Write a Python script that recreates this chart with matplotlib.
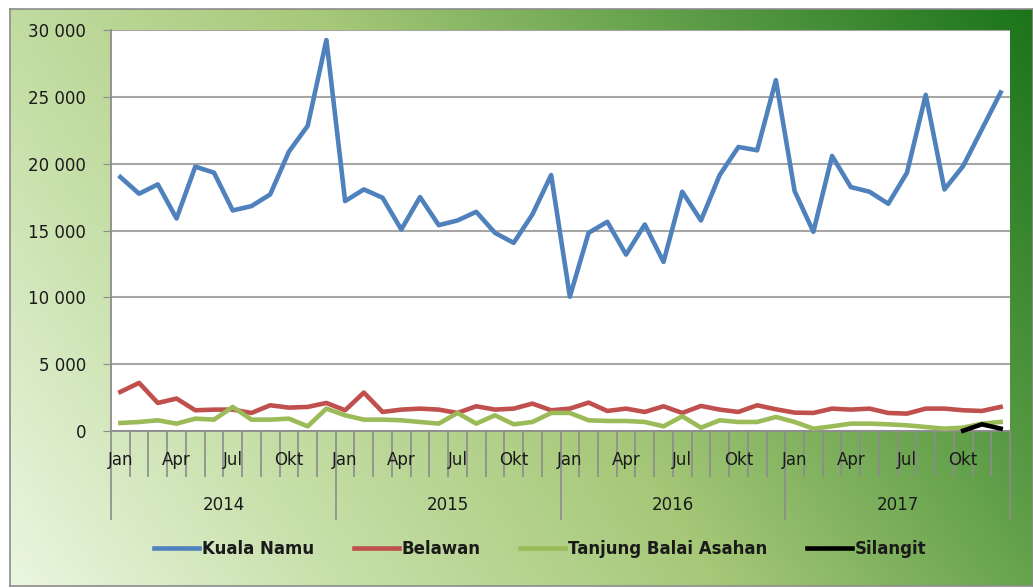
import numpy as np
import matplotlib
matplotlib.use("Agg")
import matplotlib.pyplot as plt
from matplotlib.colors import LinearSegmentedColormap
from matplotlib.transforms import blended_transform_factory, offset_copy

plt.rcParams['font.family'] = ['DejaVu Sans']

# ---- data (monthly, Jan 2014 .. Dec 2017) ----
years = ['2014', '2015', '2016', '2017']
months = ['Jan', 'Feb', 'Mar', 'Apr', 'Mei', 'Jun', 'Jul', 'Agu', 'Sep', 'Okt', 'Nov', 'Des']
shown_months = ['Jan', 'Apr', 'Jul', 'Okt']

kuala_namu = [19000, 17750, 18450, 15900, 19775, 19325, 16500, 16825, 17700, 20900, 22825, 29250,
              17200, 18075, 17450, 15075, 17500, 15400, 15750, 16400, 14825, 14075, 16200, 19150,
              10050, 14825, 15650, 13200, 15450, 12650, 17900, 15750, 19150, 21250, 21000, 26250,
              17950, 14900, 20575, 18250, 17900, 17000, 19325, 25150, 18075, 19825, 22575, 25325]
belawan = [2925, 3600, 2100, 2425, 1550, 1600, 1600, 1350, 1925, 1750, 1800, 2100,
           1550, 2875, 1425, 1600, 1675, 1600, 1350, 1850, 1600, 1675, 2050, 1550,
           1675, 2125, 1500, 1675, 1425, 1850, 1350, 1875, 1600, 1425, 1925, 1625,
           1375, 1350, 1675, 1600, 1675, 1350, 1300, 1675, 1675, 1550, 1500, 1800]
tanjung = [600, 675, 800, 550, 925, 850, 1800, 850, 850, 925, 350, 1675,
           1175, 850, 850, 800, 675, 550, 1350, 550, 1175, 500, 675, 1350,
           1350, 800, 750, 750, 675, 350, 1100, 250, 800, 675, 675, 1050,
           675, 175, 350, 550, 550, 500, 425, 300, 175, 250, 550, 675]
silangit = [np.nan] * 45 + [20, 500, 180]

series = [('Kuala Namu', kuala_namu, '#4f81bd'),
          ('Belawan', belawan, '#c0504d'),
          ('Tanjung Balai Asahan', tanjung, '#9bbb59'),
          ('Silangit', silangit, '#000000')]

W, H = 1033, 588
fig = plt.figure(figsize=(W / 100, H / 100), dpi=100)
fig.patch.set_facecolor('white')

# gradient background frame
bg = fig.add_axes([10 / W, 2 / H, 1 - 10 / W, (586 - 9) / H], zorder=0)
gx, gy = np.meshgrid(np.linspace(0, 1, 300), np.linspace(1, 0, 200))
grad = 0.72 * gx + 0.28 * gy
cmap = LinearSegmentedColormap.from_list('g', ['#eaf6e0', '#c5dea6', '#a6c878', '#5f9e48', '#1b741b'])
bg.imshow(grad, cmap=cmap, aspect='auto', extent=[0, 1, 0, 1], origin='upper', vmin=0, vmax=1)
bg.set_xticks([])
bg.set_yticks([])
for s in bg.spines.values():
    s.set_color('#8c8c8c')
    s.set_linewidth(1.2)

ax = fig.add_axes([111 / W, (H - 431) / H, (1010 - 111) / W, (431 - 30) / H], zorder=2)
ax.set_facecolor('white')

n = len(kuala_namu)
x = np.arange(n)
for name, vals, col in series:
    ax.plot(x, vals, color=col, lw=3.3, label=name, solid_joinstyle='round', clip_on=False, zorder=3)

ax.set_xlim(-0.5, n - 0.5)
ax.set_ylim(0, 30000)
yt = np.arange(0, 30001, 5000)
ax.set_yticks(yt)
ax.set_yticklabels([f'{v:,}'.replace(',', ' ') for v in yt], fontsize=12, color='#1a1a1a')
ax.tick_params(axis='y', length=6, color='#8c8c8c', pad=12)
ax.yaxis.grid(True, color='#a6a6a6', lw=1.5)
ax.set_axisbelow(True)

for s in ['top', 'right']:
    ax.spines[s].set_visible(False)
for s in ['left', 'bottom']:
    ax.spines[s].set_color('#8c8c8c')
    ax.spines[s].set_linewidth(1.3)

# month boundary ticks (minor) and year boundary ticks (major)
year_edges = np.arange(0, n + 1, 12) - 0.5
month_edges = [e for e in np.arange(1, n) - 0.5 if e not in year_edges]
ax.set_xticks(year_edges)
ax.set_xticklabels([''] * len(year_edges))
ax.set_xticks(month_edges, minor=True)
ax.tick_params(axis='x', which='major', length=64, color='#8c8c8c', width=1.2)
ax.tick_params(axis='x', which='minor', length=33, color='#8c8c8c', width=1.2)

trans = blended_transform_factory(ax.transData, ax.transAxes)
mtrans = offset_copy(trans, fig=fig, y=-29, units='dots')
ytrans = offset_copy(trans, fig=fig, y=-74, units='dots')
for i in range(n):
    m = months[i % 12]
    if m in shown_months:
        ax.text(i, 0, m, transform=mtrans, ha='center', va='center', fontsize=12, color='#1a1a1a')
for k, yr in enumerate(years):
    ax.text(k * 12 + 5.5, 0, yr, transform=ytrans, ha='center', va='center', fontsize=12, color='#1a1a1a')

leg = fig.legend(loc='center', bbox_to_anchor=(540 / W, (H - 549) / H), ncol=4, frameon=False,
                 handlelength=2.7, handletextpad=0.15, columnspacing=2.4,
                 prop={'size': 12, 'weight': 'bold'})
for t in leg.get_texts():
    t.set_color('#1a1a1a')

fig.savefig('out.png', dpi=100)
